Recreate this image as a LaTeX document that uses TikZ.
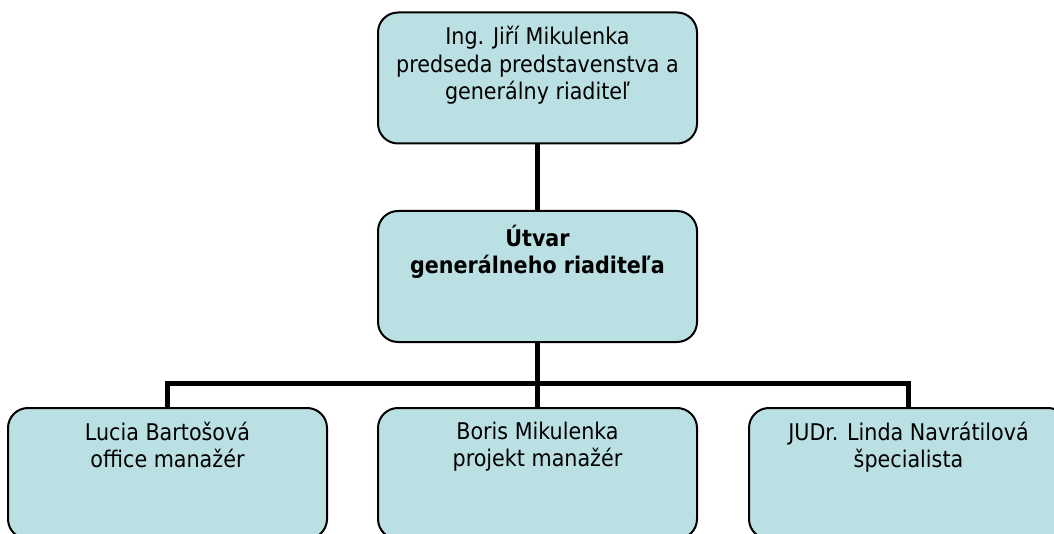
\documentclass[tikz,border=0pt]{standalone}
\usepackage{fontspec}
\setmainfont{DejaVu Sans Condensed}
\definecolor{boxfill}{RGB}{187,224,227}
\tikzset{
  orgbox/.style={draw=black, line width=2pt, fill=boxfill, rounded corners=20pt,
    minimum width=319pt, minimum height=131pt, inner sep=0pt, outer sep=0pt},
  conn/.style={draw=black, line width=5pt}
}
\newcommand{\boxtext}[1]{\begin{minipage}[t][131pt][t]{319pt}\centering\vspace{14pt}\fontsize{23}{27.5}\selectfont #1\end{minipage}}
\begin{document}
\begin{tikzpicture}[x=1pt,y=-1pt]
\useasboundingbox (0,0) rectangle (1054,534);
\clip (0,0) rectangle (1054,534);
\coordinate (hl) at (167.5,383);
\coordinate (hr) at (908.5,383);
\coordinate (hm) at (537.5,383);
\node[orgbox] (top) at (537.5,78) {\boxtext{Ing. Jiří Mikulenka\\predseda predstavenstva a\\generálny riaditeľ}};
\node[orgbox] (mid) at (537.5,276.5) {\boxtext{\bfseries Útvar\\generálneho riaditeľa}};
\node[orgbox] (b1) at (167.5,473.5) {\boxtext{Lucia Bartošová\\office manažér}};
\node[orgbox] (b2) at (537.5,473.5) {\boxtext{Boris Mikulenka\\projekt manažér}};
\node[orgbox] (b3) at (908.5,473.5) {\boxtext{JUDr. Linda Navrátilová\\špecialista}};
\draw[conn] (top.south) -- (mid.north);
\draw[conn] (mid.south) -- (hm) -- (b2.north);
\draw[conn] (b1.north) -- (hl) -- (hr) -- (b3.north);
\end{tikzpicture}
\end{document}
